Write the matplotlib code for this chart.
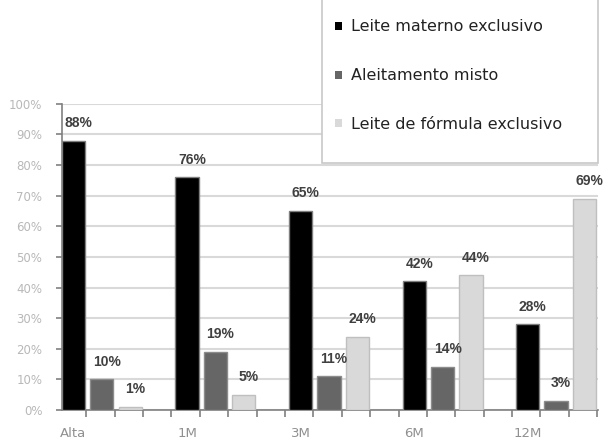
import numpy as np
import matplotlib
matplotlib.use('Agg')
import matplotlib.pyplot as plt
from matplotlib.patches import Patch, Rectangle

# ── Dados ─────────────────────────────────────────────────────────────────────
periodos = ['Alta', '1M', '3M', '6M', '12M']
series = ['Leite materno exclusivo', 'Aleitamento misto', 'Leite de fórmula exclusivo']
materno = [88, 76, 65, 42, 28]
misto = [10, 19, 11, 14, 3]
formula = [1, 5, 24, 44, 69]
yticks = list(range(0, 101, 10))

cores = ['#000000', '#666666', '#d9d9d9']
bordas = ['#7f7f7f', '#8c8c8c', '#bfbfbf']

fig = plt.figure(figsize=(6.06, 4.43), dpi=100)
ax = fig.add_axes([0.102, 0.0745, 0.885, 0.691])

largura = 0.82
base = np.arange(len(periodos)) * 4
for j, (vals, nome) in enumerate(zip([materno, misto, formula], series)):
    x = base + j
    ax.bar(x, vals, largura, color=cores[j], edgecolor=bordas[j], linewidth=1, zorder=3)
    for xi, v in zip(x, vals):
        ax.text(xi + 0.18, v + 3.5, f'{v}%', ha='center', va='bottom',
                fontsize=10, color='#404040', fontweight='bold',
                family='Liberation Sans', zorder=4)

ax.set_xlim(-0.41, 18.48)
ax.set_ylim(0, 100)
ax.set_yticks(yticks)
ax.set_yticklabels([f'{t}%' for t in yticks], fontsize=8.5, color='#b8b8b8')
ax.set_xticks(base)
ax.set_xticklabels(periodos, fontsize=9.5, color='#909090')
ax.tick_params(axis='x', length=0, pad=12)
ax.tick_params(axis='y', length=4, color='#808080', width=1.2, pad=10)
ax.set_xticks(np.arange(0, 19) + 0.45, minor=True)
ax.tick_params(axis='x', which='minor', length=5, color='#808080', width=1.2)

ax.grid(axis='y', color='#d9d9d9', linewidth=1.5, zorder=0)
ax.set_axisbelow(True)
for s in ['top', 'right']:
    ax.spines[s].set_visible(False)
ax.spines['left'].set_color('#808080')
ax.spines['bottom'].set_color('#808080')
ax.spines['left'].set_linewidth(1.2)
ax.spines['bottom'].set_linewidth(1.2)

# caixa da legenda (sobreposta ao gráfico, cortada no topo)
caixa = Rectangle((0.531, 0.632), 0.456, 0.4, transform=fig.transFigure,
                  facecolor='white', edgecolor='#c8c8c8', linewidth=1.2, zorder=5)
fig.patches.append(caixa)

handles = [Patch(facecolor=c, edgecolor='none') for c in cores]
leg = fig.legend(handles, series, loc='center left',
                 bbox_to_anchor=(0.553, 0.829), bbox_transform=fig.transFigure,
                 borderaxespad=0, borderpad=0, frameon=False,
                 fontsize=11.5, labelspacing=2.12,
                 handlelength=0.45, handleheight=0.4, handletextpad=0.55,
                 labelcolor='#222222')
leg.set_zorder(6)

fig.savefig('out.png', dpi=100)
